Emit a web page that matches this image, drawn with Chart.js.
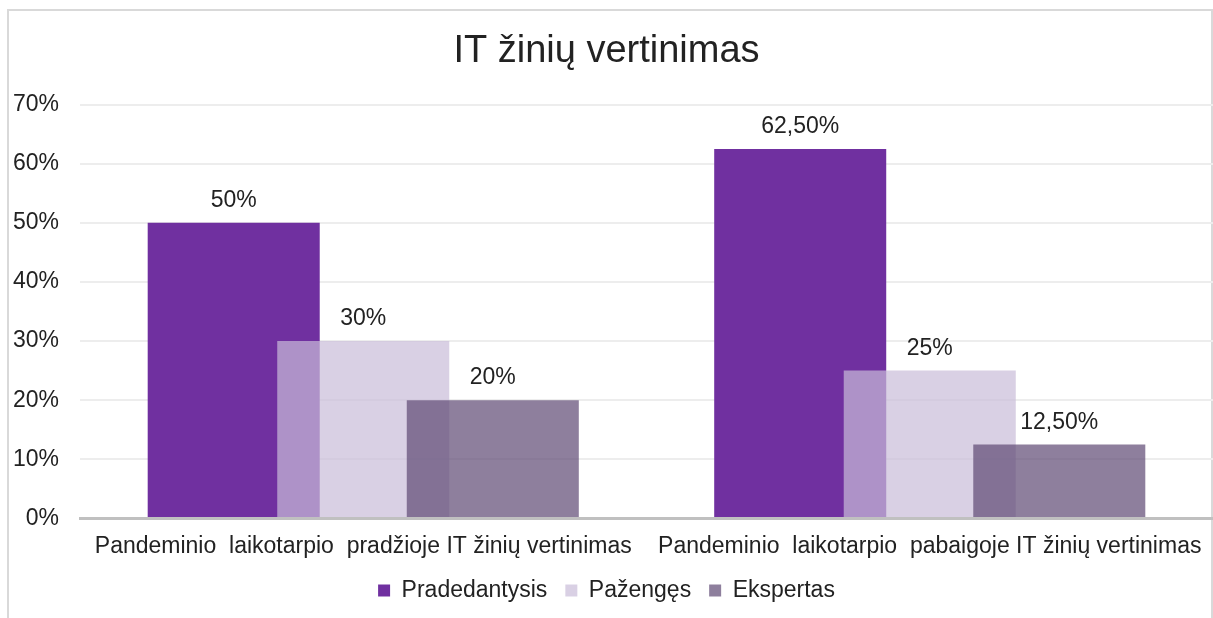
<!DOCTYPE html>
<html>
<head>
<meta charset="utf-8">
<script src="https://cdn.jsdelivr.net/npm/chart.js@4/dist/chart.umd.min.js"></script>
<style>
  html, body { margin: 0; padding: 0; background: #fff; }
  #wrap { width: 1213px; height: 618px; position: relative; }
</style>
</head>
<body>
<div id="wrap"><canvas id="itChart"></canvas></div>
<script>
const categories = [
  'Pandeminio  laikotarpio  pradžioje IT žinių vertinimas',
  'Pandeminio  laikotarpio  pabaigoje IT žinių vertinimas'
];
const seriesNames = ['Pradedantysis', 'Pažengęs', 'Ekspertas'];
const pradedantysis = [50, 62.5];
const pazenges = [30, 25];
const ekspertas = [20, 12.5];
const yTicks = [0, 10, 20, 30, 40, 50, 60, 70];

const colors = ['#7030A0', 'rgba(201,188,216,0.7)', 'rgba(94,72,116,0.7)'];
const textColor = '#222222';
Chart.defaults.font.family = '"Liberation Sans", Arial, sans-serif';
Chart.defaults.color = textColor;

// Excel-style "50%" / "62,50%" labels
function fmtPct(v) {
  return Number.isInteger(v) ? v + '%' : v.toFixed(2).replace('.', ',') + '%';
}

// Grey frame round the whole chart (its bottom edge is cut off in the original)
const framePlugin = {
  id: 'frame',
  beforeDraw(chart) {
    const { ctx } = chart;
    ctx.save();
    ctx.strokeStyle = '#D9D9D9';
    ctx.lineWidth = 2;
    ctx.strokeRect(8, 10, 1204, 700);
    ctx.restore();
  }
};

// Chart.js paints dataset 0 last (on top). The bars overlap here and the later
// series sit on top of the earlier ones, so draw them in index order ourselves,
// then put the value labels above each bar.
const overlapPlugin = {
  id: 'overlap',
  beforeDatasetsDraw(chart) {
    const { ctx, chartArea } = chart;
    const metas = chart.getSortedVisibleDatasetMetas().slice().sort((a, b) => a.index - b.index);
    metas.forEach(meta => {
      ctx.save();
      ctx.beginPath();
      ctx.rect(chartArea.left, chartArea.top, chartArea.width, chartArea.height);
      ctx.clip();
      meta.controller.draw();
      ctx.restore();
    });
    ctx.save();
    ctx.font = '23px "Liberation Sans", Arial, sans-serif';
    ctx.fillStyle = textColor;
    ctx.textAlign = 'center';
    ctx.textBaseline = 'alphabetic';
    metas.forEach(meta => {
      meta.data.forEach((bar, i) => {
        const val = chart.data.datasets[meta.index].data[i];
        ctx.fillText(fmtPct(val), bar.x, bar.y - 16);
      });
    });
    ctx.restore();
    return false;
  }
};

const series = [pradedantysis, pazenges, ekspertas];

new Chart(document.getElementById('itChart'), {
  type: 'bar',
  data: {
    labels: categories,
    datasets: series.map((data, i) => ({
      label: seriesNames[i], data, backgroundColor: colors[i], borderWidth: 0,
      categoryPercentage: 0.686, barPercentage: 1.328
    }))
  },
  options: {
    responsive: true, maintainAspectRatio: false, animation: false,
    layout: { padding: { top: 0, right: 0, left: 0, bottom: 6 } },
    plugins: {
      title: { display: true, text: 'IT žinių vertinimas', color: textColor, font: { size: 38, weight: 'normal' }, padding: { top: 29, bottom: 30 } },
      legend: {
        position: 'bottom',
        labels: { boxWidth: 12, boxHeight: 12, padding: 18, color: textColor, font: { size: 23 } }
      },
      tooltip: { enabled: false }
    },
    scales: {
      x: {
        grid: { display: false },
        border: { display: true, color: '#C0C0C0', width: 3, z: 1 },
        ticks: { font: { size: 23 }, color: textColor, maxRotation: 0, autoSkip: false, padding: 6 },
        // labels hang from the axis top; trim the empty space under them
        afterFit(scale) { scale.height -= 5; }
      },
      y: {
        min: yTicks[0], max: yTicks[yTicks.length - 1],
        afterBuildTicks(scale) { scale.ticks = yTicks.map(v => ({ value: v })); },
        afterFit(scale) { scale.width = 80; },
        grid: { color: '#EDEDED', lineWidth: 2, drawTicks: false },
        border: { display: false },
        ticks: { font: { size: 23 }, color: textColor, padding: 21, callback: v => v + '%' }
      }
    }
  },
  plugins: [framePlugin, overlapPlugin]
});
</script>
</body>
</html>
